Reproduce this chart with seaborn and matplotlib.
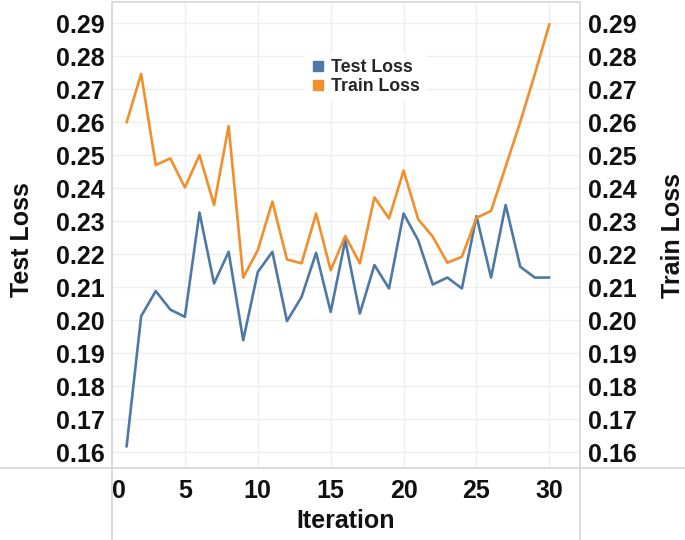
import numpy as np
import pandas as pd
import matplotlib
matplotlib.use("Agg")
import matplotlib.pyplot as plt
from matplotlib.lines import Line2D
import seaborn as sns

# values
iterations = list(range(1, 31))
test_loss = [0.1617, 0.2012, 0.2088, 0.2032, 0.2010, 0.2326, 0.2111, 0.2207, 0.1939, 0.2146,
             0.2207, 0.1997, 0.2070, 0.2204, 0.2025, 0.2242, 0.2020, 0.2167, 0.2096, 0.2323,
             0.2242, 0.2108, 0.2129, 0.2096, 0.2315, 0.2129, 0.2349, 0.2162, 0.2129, 0.2129]
train_loss = [0.2599, 0.2746, 0.2470, 0.2490, 0.2402, 0.2500, 0.2349, 0.2588, 0.2129, 0.2212,
              0.2359, 0.2184, 0.2172, 0.2323, 0.2151, 0.2255, 0.2172, 0.2372, 0.2308, 0.2453,
              0.2306, 0.2253, 0.2174, 0.2192, 0.2310, 0.2331, 0.2465, 0.2600, 0.2745, 0.2897]
y_ticks = [0.16, 0.17, 0.18, 0.19, 0.20, 0.21, 0.22, 0.23, 0.24, 0.25, 0.26, 0.27, 0.28, 0.29]
x_ticks = [0, 5, 10, 15, 20, 25, 30]

df = pd.DataFrame({'Iteration': iterations, 'Test Loss': test_loss, 'Train Loss': train_loss})

sns.set_theme(style="white")
plt.rcParams['font.family'] = ['Liberation Sans', 'DejaVu Sans']
plt.rcParams['font.weight'] = 'bold'

blue = '#4e79a7'
orange = '#f28e2b'
frame = '#d6d6d6'
grid = '#efefef'

fig = plt.figure(figsize=(6.85, 5.40), dpi=100)
x0, x1 = 112 / 685, 580 / 685
y0, y1 = 1 - 468 / 540, 1 - 2 / 540
ax = fig.add_axes([x0, y0, x1 - x0, y1 - y0])

sns.lineplot(data=df, x='Iteration', y='Test Loss', ax=ax, color=blue, lw=1.9)
ax2 = ax.twinx()
sns.lineplot(data=df, x='Iteration', y='Train Loss', ax=ax2, color=orange, lw=1.9)

ylim = (0.1552, 0.2964)
for a in (ax, ax2):
    a.set_ylim(*ylim)
    a.set_yticks(y_ticks)
    a.set_yticklabels([f"{v:.2f}" for v in y_ticks])
    a.set_xlim(0, 32.1)
    a.tick_params(length=0, labelsize=18, labelcolor='#111111')
    for s in a.spines.values():
        s.set_visible(False)
ax.tick_params(axis='y', pad=5)
ax2.tick_params(axis='y', pad=6)
ax.tick_params(axis='x', pad=8)
ax.set_xticks(x_ticks)
ax.set_xticklabels([str(v) for v in x_ticks])
ax.get_xticklabels()[0].set_horizontalalignment('left')

ax.grid(True, color=grid, lw=1)
ax2.grid(False)

ax.set_xlabel('Iteration', fontsize=18, fontweight='bold', labelpad=4, color='#111111')
ax.set_ylabel('Test Loss', fontsize=18, fontweight='bold', color='#111111')
ax2.set_ylabel('Train Loss', fontsize=18, fontweight='bold', color='#111111')
ax.yaxis.set_label_coords((34 - 112) / 468, 0.49)
ax2.yaxis.set_label_coords((661 - 112) / 468, 0.5)

handles = [Line2D([], [], ls='', marker='s', ms=7, color=blue),
           Line2D([], [], ls='', marker='s', ms=7, color=orange)]
leg = ax2.legend(handles, ['Test Loss', 'Train Loss'], loc='upper left',
                 bbox_to_anchor=((295 - 112) / 468, (468 - 45) / 466),
                 frameon=True, fancybox=False, framealpha=1, edgecolor='white',
                 prop={'size': 12.8, 'weight': 'bold'}, handletextpad=0.2,
                 handlelength=1.0, labelspacing=0.1, borderpad=0.3)

# frame lines running past the plot area, as in the reference
fig.add_artist(Line2D([x0, x0], [0, y1], color=frame, lw=1.2, transform=fig.transFigure))
fig.add_artist(Line2D([x1, x1], [0, y1], color=frame, lw=1.2, transform=fig.transFigure))
fig.add_artist(Line2D([0, 1], [y0, y0], color=frame, lw=1.2, transform=fig.transFigure))
fig.add_artist(Line2D([x0, x1], [y1, y1], color=frame, lw=1.2, transform=fig.transFigure))

fig.savefig('out.png', dpi=100)
